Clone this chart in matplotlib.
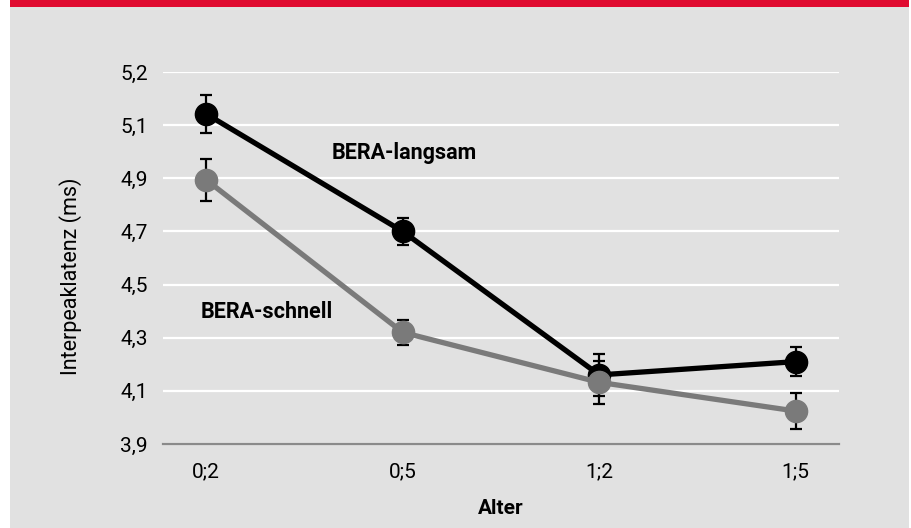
import numpy as np
import matplotlib.pyplot as plt
from matplotlib.patches import Rectangle

# data
alter = ['0;2', '0;5', '1;2', '1;5']
langsam = [5.142, 4.70, 4.16, 4.21]
langsam_err = [0.07, 0.05, 0.08, 0.054]
schnell = [4.894, 4.32, 4.132, 4.024]
schnell_err = [0.079, 0.047, 0.08, 0.067]

ytick_vals = [3.9, 4.1, 4.3, 4.5, 4.7, 4.9, 5.1, 5.3]
ytick_labels = ['3,9', '4,1', '4,3', '4,5', '4,7', '4,9', '5,1', '5,2']

plt.rcParams['font.family'] = ['Roboto', 'DejaVu Sans']

bg = '#e1e1e1'
red = '#e00b30'
grey = '#7a7a7a'

fig = plt.figure(figsize=(9.12, 5.28), dpi=100, facecolor='white')
# grey panel and red band on top
fig.patches.append(Rectangle((10 / 912, 0), 899 / 912, 521 / 528, transform=fig.transFigure,
                             facecolor=bg, edgecolor='none', zorder=-10))
fig.patches.append(Rectangle((10 / 912, 521 / 528), 899 / 912, 7 / 528, transform=fig.transFigure,
                             facecolor=red, edgecolor='none', zorder=-10))

ax = fig.add_axes([163 / 912, 84 / 528, 676 / 912, 372 / 528])
ax.set_facecolor('none')

x = np.arange(len(alter))

ax.errorbar(x, langsam, yerr=langsam_err, fmt='none', ecolor='black', elinewidth=1.6,
            capsize=4.5, capthick=1.6, zorder=2)
ax.errorbar(x, schnell, yerr=schnell_err, fmt='none', ecolor='black', elinewidth=1.6,
            capsize=4.5, capthick=1.6, zorder=2)
ax.plot(x, langsam, color='black', lw=3.8, marker='o', ms=16, zorder=3)
ax.plot(x, schnell, color=grey, lw=3.8, marker='o', ms=16, zorder=4)

ax.set_xlim(-0.22, 3.22)
ax.set_ylim(3.9, 5.3)
ax.set_yticks(ytick_vals)
ax.set_yticklabels(ytick_labels)
ax.set_xticks(x)
ax.set_xticklabels(alter)
ax.tick_params(length=0, labelsize=15, colors='black')
ax.tick_params(axis='y', pad=11)
ax.tick_params(axis='x', pad=13)

ax.grid(axis='y', color='white', lw=1.6, zorder=1)
ax.set_axisbelow(True)
for s in ['top', 'right', 'left']:
    ax.spines[s].set_visible(False)
ax.spines['bottom'].set_color('#8a8a8a')
ax.spines['bottom'].set_linewidth(1.6)
ax.spines['bottom'].set_zorder(1)

ax.set_xlabel('Alter', fontsize=15, fontweight='bold', labelpad=13)
fig.text(71 / 912, 1 - 276 / 528, 'Interpeaklatenz (ms)', fontsize=15.5, rotation=90,
         ha='center', va='center')

ax.text(0.638, 4.995, 'BERA-langsam', fontsize=15.5, fontweight='bold', va='center', ha='left')
ax.text(-0.028, 4.398, 'BERA-schnell', fontsize=15.5, fontweight='bold', va='center', ha='left')

fig.savefig('out.png', dpi=100, facecolor='white')
